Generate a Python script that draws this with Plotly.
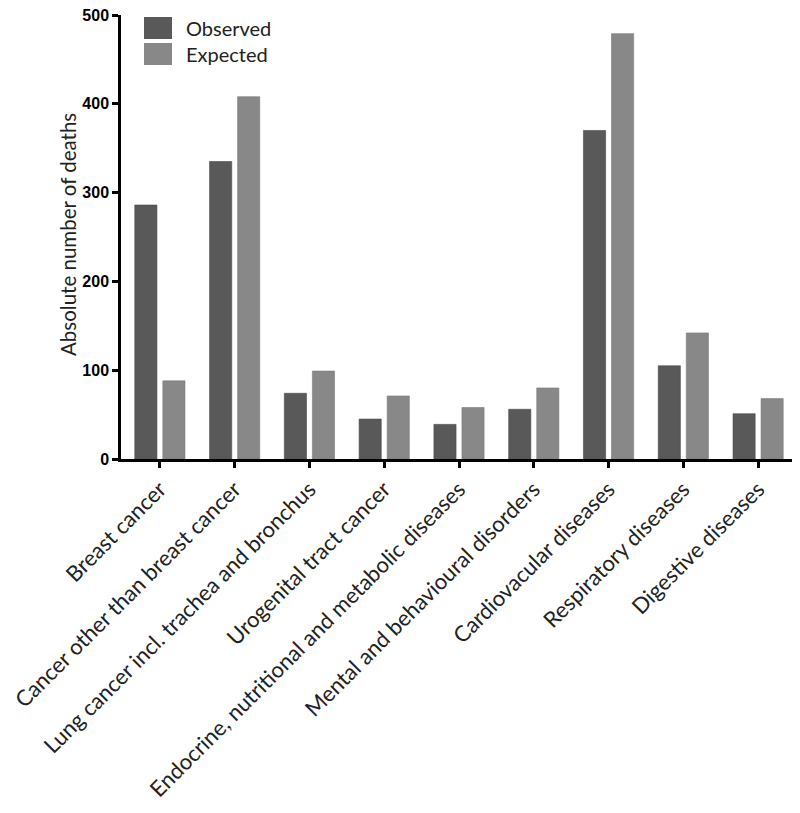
import plotly.graph_objects as go

categories = [
    "Breast cancer",
    "Cancer other than breast cancer",
    "Lung cancer incl. trachea and bronchus",
    "Urogenital tract cancer",
    "Endocrine, nutritional and metabolic diseases",
    "Mental and behavioural disorders",
    "Cardiovacular diseases",
    "Respiratory diseases",
    "Digestive diseases",
]
observed = [286, 335, 74, 45, 39, 56, 370, 105, 51]
expected = [88, 408, 99, 71, 58, 80, 479, 142, 68]
y_ticks = [0, 100, 200, 300, 400, 500]

OBS_COLOR = "#595959"
EXP_COLOR = "#888888"
LABEL_FONT = "Lato, 'Open Sans', sans-serif"

fig = go.Figure()
fig.add_trace(go.Bar(
    x=categories, y=observed, name="Observed",
    marker=dict(color=OBS_COLOR, line=dict(color="#4a4a4a", width=0.6)),
    showlegend=False,
))
fig.add_trace(go.Bar(
    x=categories, y=expected, name="Expected",
    marker=dict(color=EXP_COLOR, line=dict(color="#7a7a7a", width=0.6)),
    showlegend=False,
))

# page body has an 8px margin; compensate so the plot area lands at the reference position
OFF = 8
W, H = 800, 813
ml, mr, mt, mb = 121 - OFF, 3 + OFF, 15 - OFF, 354 + OFF
pw, ph = W - ml - mr, H - mt - mb

def px(x):  # screen x -> paper
    return (x - OFF - ml) / pw

def py(y):  # screen y -> paper
    return (H - mb - (y - OFF)) / ph

shapes = []
annotations = []
for (name, color, y0, y1) in [("Observed", OBS_COLOR, 17, 39), ("Expected", EXP_COLOR, 43, 65)]:
    shapes.append(dict(type="rect", xref="paper", yref="paper",
                       x0=px(144), x1=px(172), y0=py(y1), y1=py(y0),
                       fillcolor=color, line=dict(width=0)))
    annotations.append(dict(text=name, xref="paper", yref="paper",
                            x=px(184), y=py((y0 + y1) / 2), xanchor="left", yanchor="middle",
                            showarrow=False, font=dict(family=LABEL_FONT, size=20, color="#222")))

annotations.append(dict(text="Absolute number of deaths", xref="paper", yref="paper",
                        x=px(68), y=py(235), xanchor="center", yanchor="middle", textangle=-90,
                        showarrow=False, font=dict(family=LABEL_FONT, size=20.5, color="#222")))

fig.update_layout(
    width=W, height=H,
    margin=dict(l=ml, r=mr, t=mt, b=mb, autoexpand=False),
    paper_bgcolor="white", plot_bgcolor="white",
    barmode="group", bargap=0.25, bargroupgap=0.21,
    shapes=shapes, annotations=annotations,
    xaxis=dict(
        range=[-0.52, 8.52], showline=True, linecolor="black", linewidth=2.5,
        ticks="outside", ticklen=6, tickwidth=2.5, tickcolor="black",
        tickangle=-45, tickfont=dict(family=LABEL_FONT, size=22, color="#222"),
        ticklabeloverflow="allow",
        showgrid=False, zeroline=False, automargin=False,
    ),
    yaxis=dict(
        range=[0, 500], tickvals=y_ticks, showline=True, linecolor="black", linewidth=2.5,
        ticks="outside", ticklen=6, tickwidth=2.5, tickcolor="black",
        tickfont=dict(family="'Liberation Sans', Arial, sans-serif", size=16, color="black", weight="bold"),
        ticklabeloverflow="allow",
        showgrid=False, zeroline=False, automargin=False,
    ),
)

fig.write_html("out.html")
